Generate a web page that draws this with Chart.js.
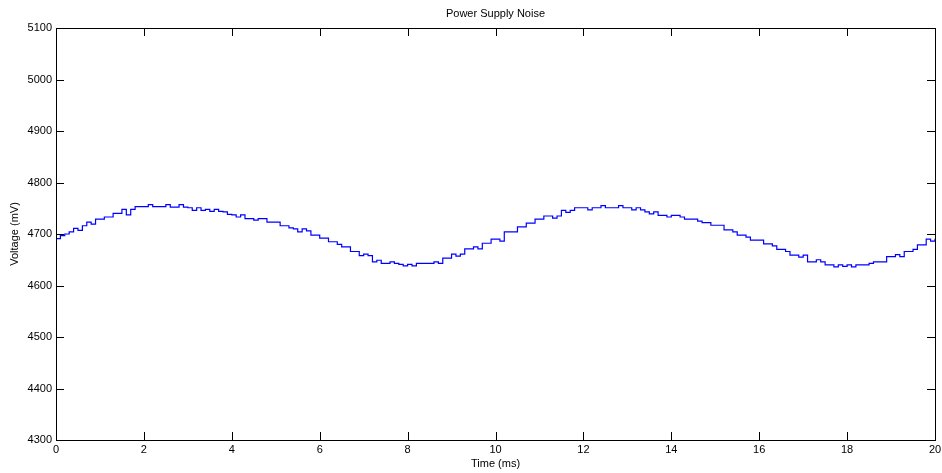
<!DOCTYPE html>
<html>
<head>
<meta charset="utf-8">
<title>Power Supply Noise</title>
<script src="https://cdn.jsdelivr.net/npm/chart.js@4"></script>
<style>
    html, body { margin: 0; padding: 0; background: #fff; }
    #wrap { width: 942px; height: 473px; position: relative; }
</style>
</head>
<body>
<div id="wrap"><canvas id="noiseChart"></canvas></div>
<script>
// Samples, one every 0.1 ms from 0 to 20 ms (mV)
const sampleStepMs = 0.1;
const voltageMv = [
    4691, 4697, 4700, 4704, 4711, 4707, 4716, 4723, 4719, 4729,   // 0.0 - 0.9
    4729, 4733, 4733, 4740, 4740, 4748, 4737, 4748, 4753, 4753,   // 1.x
    4753, 4757, 4753, 4753, 4753, 4757, 4752, 4752, 4757, 4752,   // 2.x
    4751, 4746, 4751, 4746, 4748, 4744, 4748, 4744, 4743, 4738,   // 3.x
    4737, 4733, 4737, 4730, 4730, 4727, 4730, 4730, 4723, 4723,   // 4.x
    4723, 4716, 4716, 4712, 4710, 4704, 4710, 4706, 4698, 4698,   // 5.x
    4692, 4692, 4685, 4685, 4680, 4675, 4675, 4666, 4666, 4658,   // 6.x
    4661, 4658, 4646, 4649, 4643, 4643, 4646, 4643, 4641, 4638,   // 7.x
    4641, 4638, 4643, 4643, 4643, 4643, 4646, 4643, 4653, 4653,   // 8.x
    4661, 4657, 4661, 4671, 4671, 4675, 4671, 4682, 4682, 4690,   // 9.x
    4690, 4686, 4704, 4704, 4704, 4714, 4714, 4721, 4721, 4729,   // 10.x
    4729, 4735, 4735, 4731, 4735, 4746, 4742, 4746, 4751, 4751,   // 11.x
    4751, 4747, 4751, 4751, 4755, 4751, 4751, 4751, 4755, 4751,   // 12.x
    4751, 4747, 4751, 4747, 4743, 4739, 4743, 4736, 4736, 4733,   // 13.x
    4736, 4736, 4733, 4729, 4729, 4729, 4725, 4722, 4722, 4717,   // 14.x
    4717, 4717, 4708, 4708, 4704, 4698, 4698, 4694, 4688, 4688,   // 15.x
    4688, 4681, 4681, 4677, 4670, 4670, 4666, 4659, 4659, 4655,   // 16.x
    4659, 4646, 4646, 4650, 4646, 4640, 4640, 4636, 4640, 4637,   // 17.x
    4640, 4636, 4640, 4640, 4640, 4643, 4646, 4646, 4646, 4656,   // 18.x
    4656, 4660, 4656, 4666, 4666, 4670, 4679, 4679, 4690, 4686,   // 19.x
    4691                                                          // 20.0
];

const xTicks = [0, 2, 4, 6, 8, 10, 12, 14, 16, 18, 20];
const yTicks = [4300, 4400, 4500, 4600, 4700, 4800, 4900, 5000, 5100];

const FONT = 'Arial, "Liberation Sans", Helvetica, sans-serif';
const TICK_LEN = 8;

const points = voltageMv.map((v, i) => ({ x: +(i * sampleStepMs).toFixed(1), y: v }));

// MATLAB-style box with inward ticks on all four sides, plus centred title
const boxPlugin = {
    id: 'matlabBox',
    afterDraw(chart) {
        const { ctx, chartArea: a, scales } = chart;
        ctx.save();
        ctx.strokeStyle = '#000';
        ctx.lineWidth = 1;
        ctx.strokeRect(a.left + 0.5, a.top + 0.5, a.right - a.left, a.bottom - a.top);

        ctx.beginPath();
        xTicks.forEach(t => {
            const px = Math.round(scales.x.getPixelForValue(t)) + 0.5;
            ctx.moveTo(px, a.bottom); ctx.lineTo(px, a.bottom - TICK_LEN);
            ctx.moveTo(px, a.top);    ctx.lineTo(px, a.top + TICK_LEN);
        });
        yTicks.forEach(t => {
            const py = Math.round(scales.y.getPixelForValue(t)) + 0.5;
            ctx.moveTo(a.left, py);  ctx.lineTo(a.left + TICK_LEN, py);
            ctx.moveTo(a.right, py); ctx.lineTo(a.right - TICK_LEN, py);
        });
        ctx.stroke();

        ctx.fillStyle = '#000';
        ctx.font = '11px ' + FONT;
        ctx.textAlign = 'center';
        ctx.textBaseline = 'middle';
        ctx.fillText('Power Supply Noise', (a.left + a.right) / 2, 14);
        ctx.restore();
    }
};

new Chart(document.getElementById('noiseChart'), {
    type: 'line',
    data: {
        datasets: [{
            label: 'Voltage',
            data: points,
            borderColor: '#0000ff',
            borderWidth: 1.2,
            pointRadius: 0,
            stepped: true,
            fill: false,
        }]
    },
    options: {
        responsive: true,
        maintainAspectRatio: false,
        animation: false,
        layout: { padding: { top: 28, right: 7, left: 0, bottom: 0 } },
        plugins: {
            legend: { display: false },
            tooltip: { enabled: false },
        },
        scales: {
            x: {
                type: 'linear',
                min: 0,
                max: 20,
                afterBuildTicks: (s) => { s.ticks = xTicks.map(v => ({ value: v })); },
                afterFit: (s) => { s.height = 33; s.paddingLeft = 0; s.paddingRight = 0; },
                grid: { display: false, drawTicks: false },
                border: { display: false },
                ticks: { color: '#000', padding: 3, maxRotation: 0, autoSkip: false, callback: (v) => String(v), font: { family: FONT, size: 11 } },
                title: { display: true, text: 'Time (ms)', color: '#000', padding: { top: 0, bottom: 2 }, font: { family: FONT, size: 11 } },
            },
            y: {
                min: 4300,
                max: 5100,
                afterBuildTicks: (s) => { s.ticks = yTicks.map(v => ({ value: v })); },
                afterFit: (s) => { s.width = 56; s.paddingTop = 0; s.paddingBottom = 0; },
                grid: { display: false, drawTicks: false },
                border: { display: false },
                ticks: { color: '#000', padding: 4, autoSkip: false, callback: (v) => String(v), font: { family: FONT, size: 11 } },
                title: { display: true, text: 'Voltage (mV)', color: '#000', padding: { top: 8, bottom: 0 }, font: { family: FONT, size: 11 } },
            }
        }
    },
    plugins: [boxPlugin]
});
</script>
</body>
</html>
